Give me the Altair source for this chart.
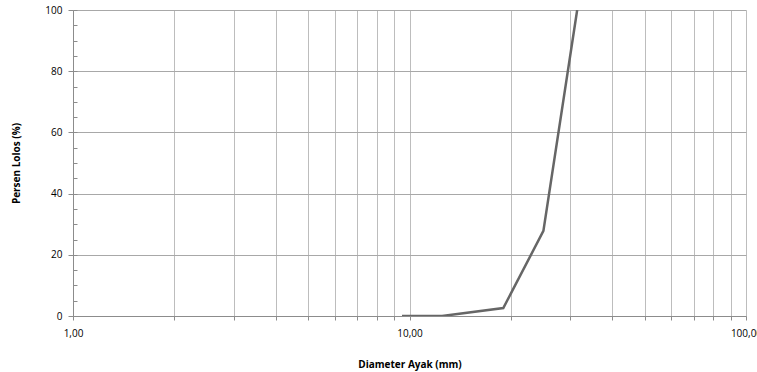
import altair as alt
import pandas as pd

diameter = [9.5, 12.5, 19.0, 25.0, 31.5]
persen_lolos = [0.0, 0.0, 2.6, 27.8, 100.0]

x_ticks = [1, 2, 3, 4, 5, 6, 7, 8, 9, 10, 20, 30, 40, 50, 60, 70, 80, 90, 100]
y_major = [0, 20, 40, 60, 80, 100]
y_minor = [v for v in range(0, 101, 5)]

df = pd.DataFrame({"d": diameter, "p": persen_lolos})

FONT = "Open Sans"
W, H = 673, 306

xscale = alt.Scale(type="log", domain=[1, 100], nice=False)
yscale = alt.Scale(domain=[0, 100], nice=False)

line = alt.Chart(df).mark_line(color="#666666", strokeWidth=2.5, clip=True).encode(
    x=alt.X("d:Q", scale=xscale, axis=alt.Axis(
        values=x_ticks,
        labelExpr="datum.value == 1 ? '1,00' : datum.value == 10 ? '10,00' : datum.value == 100 ? '100,00' : ''",
        title="Diameter Ayak (mm)",
        titleFont=FONT, titleFontSize=10, titleFontWeight="bold", titleColor="#000000",
        titlePadding=21,
        labelFont=FONT, labelFontSize=10, labelColor="#000000", labelPadding=8,
        labelFlush=False,
        grid=True, gridColor="#bdbdbd", gridWidth=1,
        domainColor="#8c8c8c", tickColor="#8c8c8c", tickSize=4,
    )),
    y=alt.Y("p:Q", scale=yscale, axis=alt.Axis(
        values=y_major,
        title="Persen Lolos (%)",
        titleFont=FONT, titleFontSize=10, titleFontWeight="bold", titleColor="#000000",
        titlePadding=23,
        labelFont=FONT, labelFontSize=10, labelColor="#000000", labelPadding=6,
        grid=True, gridColor="#a8a8a8", gridWidth=1,
        domainColor="#8c8c8c", tickColor="#8c8c8c", tickSize=5,
    )),
)

minor = alt.Chart(pd.DataFrame({"v": y_minor})).mark_point(opacity=0).encode(
    y=alt.Y("v:Q", scale=yscale, axis=alt.Axis(
        orient="right", offset=-W, values=y_minor, labels=False, title=None,
        domain=False, grid=False, tickColor="#8c8c8c", tickSize=4,
    )),
)

chart = alt.layer(line, minor).resolve_scale(y="shared").resolve_axis(y="independent").properties(
    width=W, height=H,
    autosize=alt.AutoSizeParams(type="none"),
    padding={"left": 73, "top": 10, "right": 11, "bottom": 56},
    background="#ffffff",
).configure_view(stroke=None)

chart.save("out.html", embed_options={"renderer": "svg", "actions": False})
